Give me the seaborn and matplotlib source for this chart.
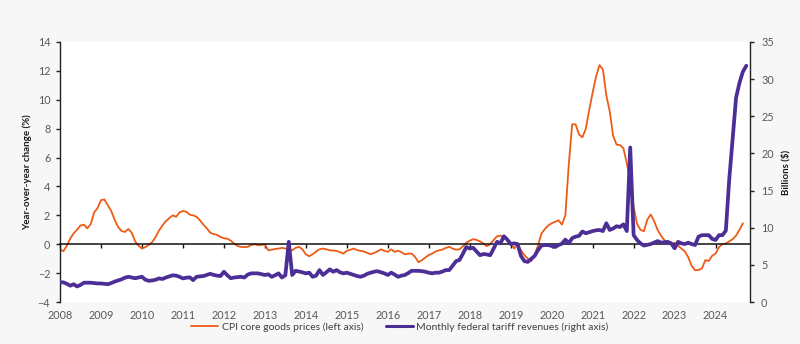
import numpy as np
import pandas as pd
import matplotlib
matplotlib.use("Agg")
import matplotlib.pyplot as plt
import seaborn as sns
from matplotlib.lines import Line2D

# ---------------- data (monthly, starting Jan 2008) ----------------
start_year = 2008
cpi_core_goods = [
    -0.35, -0.48, -0.1, 0.39, 0.75, 1.0, 1.3, 1.35, 1.1, 1.4, 2.2, 2.5,
    3.05, 3.1, 2.7, 2.3, 1.7, 1.2, 0.92, 0.85, 1.06, 0.8, 0.2, -0.1,
    -0.3, -0.2, -0.05, 0.15, 0.5, 0.95, 1.3, 1.6, 1.8, 2.0, 1.9, 2.2,
    2.3, 2.25, 2.05, 2.0, 1.9, 1.65, 1.35, 1.1, 0.8, 0.7, 0.65, 0.5,
    0.42, 0.38, 0.25, 0.05, -0.12, -0.18, -0.2, -0.18, -0.05, 0.0, -0.07, -0.05,
    -0.02, -0.42, -0.38, -0.33, -0.3, -0.25, -0.3, -0.33, -0.42, -0.25, -0.18, -0.35,
    -0.7, -0.83, -0.69, -0.5, -0.35, -0.3, -0.35, -0.42, -0.44, -0.46, -0.55, -0.65,
    -0.46, -0.38, -0.3, -0.4, -0.46, -0.5, -0.6, -0.69, -0.6, -0.49, -0.35, -0.45,
    -0.53, -0.35, -0.53, -0.45, -0.55, -0.7, -0.65, -0.65, -0.88, -1.25, -1.1, -0.92,
    -0.75, -0.65, -0.5, -0.42, -0.37, -0.25, -0.18, -0.3, -0.38, -0.35, -0.14, 0.1,
    0.25, 0.35, 0.3, 0.2, 0.05, -0.14, 0.0, 0.3, 0.55, 0.6, 0.45, 0.3,
    0.1, -0.3, 0.05, -0.42, -0.75, -1.0, -1.16, -0.76, -0.07, 0.74, 1.05, 1.3,
    1.45, 1.55, 1.66, 1.36, 2.0, 5.5, 8.3, 8.3, 7.6, 7.4, 8.0, 9.3,
    10.5, 11.6, 12.4, 12.1, 10.3, 9.2, 7.5, 6.9, 6.86, 6.65, 5.6, 4.4,
    2.6, 1.4, 1.0, 0.9, 1.7, 2.06, 1.6, 1.0, 0.6, 0.28, 0.1, 0.05,
    0.09, -0.1, -0.3, -0.5, -0.9, -1.5, -1.8, -1.78, -1.68, -1.1, -1.16, -0.8,
    -0.65, -0.2, 0.0, 0.05, 0.2, 0.35, 0.6, 1.0, 1.45,
]
tariff_revenues = [
    2.65, 2.65, 2.45, 2.2, 2.4, 2.1, 2.3, 2.6, 2.6, 2.6, 2.55, 2.5,
    2.5, 2.45, 2.4, 2.55, 2.75, 2.9, 3.05, 3.27, 3.4, 3.3, 3.2, 3.3,
    3.4, 3.0, 2.86, 2.9, 3.0, 3.18, 3.1, 3.3, 3.45, 3.6, 3.55, 3.4,
    3.18, 3.27, 3.32, 2.95, 3.4, 3.45, 3.5, 3.65, 3.8, 3.65, 3.55, 3.5,
    4.07, 3.6, 3.2, 3.3, 3.35, 3.4, 3.3, 3.7, 3.86, 3.86, 3.86, 3.75,
    3.64, 3.73, 3.4, 3.6, 3.86, 3.3, 3.6, 8.1, 3.64, 4.2, 4.1, 4.0,
    3.86, 3.95, 3.4, 3.55, 4.3, 3.64, 4.0, 4.4, 4.08, 4.3, 4.0, 3.86,
    3.95, 3.8, 3.64, 3.5, 3.4, 3.55, 3.8, 3.95, 4.08, 4.15, 4.0, 3.86,
    3.64, 3.95, 3.7, 3.4, 3.55, 3.64, 3.9, 4.2, 4.2, 4.2, 4.15, 4.08,
    3.95, 3.86, 3.95, 3.95, 4.1, 4.3, 4.3, 4.9, 5.5, 5.66, 6.5, 7.4,
    7.2, 7.3, 6.8, 6.3, 6.46, 6.4, 6.3, 7.2, 8.1, 7.9, 8.85, 8.4,
    7.8, 7.9, 7.8, 6.2, 5.5, 5.4, 5.8, 6.2, 7.0, 7.6, 7.67, 7.67,
    7.55, 7.4, 7.67, 7.85, 8.4, 7.9, 8.6, 8.8, 8.9, 9.5, 9.25, 9.4,
    9.55, 9.65, 9.7, 9.55, 10.6, 9.7, 9.9, 10.2, 10.1, 10.45, 9.55, 20.8,
    9.0, 8.35, 7.9, 7.6, 7.7, 7.8, 8.0, 8.2, 8.0, 8.05, 8.1, 7.9,
    7.23, 8.1, 7.9, 7.8, 7.99, 7.8, 7.67, 8.8, 9.0, 9.0, 9.0, 8.5,
    8.35, 9.0, 9.0, 9.6, 16.5, 22.0, 27.5, 29.5, 31.0, 31.8,
]
year_ticks = list(range(2008, 2025))
left_ticks = list(range(-4, 15, 2))
right_ticks = list(range(0, 36, 5))
cpi_label = "CPI core goods prices (left axis)"
tariff_label = "Monthly federal tariff revenues (right axis)"
left_title = "Year-over-year change (%)"
right_title = "Billions ($)"

# ---------------- style ----------------
ORANGE = "#EE5B14"
PURPLE = "#4B2E96"
GRAY = "#595959"

sns.set_theme(style="white")
plt.rcParams["font.family"] = ["Lato", "DejaVu Sans"]

cpi_df = pd.DataFrame({"year": start_year + np.arange(len(cpi_core_goods)) / 12.0,
                       "value": cpi_core_goods})
tar_df = pd.DataFrame({"year": start_year + np.arange(len(tariff_revenues)) / 12.0,
                       "value": tariff_revenues})

fig = plt.figure(figsize=(8, 3.44), dpi=100, facecolor="#f7f7f7")
ax = fig.add_axes([0.075, 0.122, 0.8625, 0.756])
ax.set_facecolor("white")
ax2 = ax.twinx()

sns.lineplot(data=cpi_df, x="year", y="value", ax=ax, color=ORANGE, linewidth=1.3)
sns.lineplot(data=tar_df, x="year", y="value", ax=ax2, color=PURPLE, linewidth=2.7)

ax.set_xlim(2008, 2024.84)
ax.set_ylim(-4, 14)
ax2.set_ylim(0, 35)

# left axis
ax.spines["top"].set_visible(False)
ax.spines["right"].set_visible(False)
ax.spines["left"].set_color("#222222")
ax.spines["left"].set_linewidth(1.0)
ax.spines["bottom"].set_position(("data", 0))
ax.spines["bottom"].set_color("#111111")
ax.spines["bottom"].set_linewidth(1.1)
ax.set_yticks(left_ticks)
ax.tick_params(axis="y", left=True, direction="out", length=3, width=1,
               color="#222222", pad=4, labelsize=7.8, labelcolor=GRAY)
ax.set_xticks(year_ticks)
ax.tick_params(axis="x", bottom=True, direction="out", length=3, width=1,
               color="#111111", labelbottom=False)
ax.set_xlabel("")
ax.set_ylabel(left_title, fontsize=7, fontweight="bold", color="#1a1a1a", labelpad=4)

# x labels at bottom
sec = ax.secondary_xaxis("bottom")
sec.set_xticks(year_ticks)
sec.set_xticklabels([str(y) for y in year_ticks])
sec.tick_params(length=0, pad=6, labelsize=7.8, labelcolor=GRAY)
sec.spines["bottom"].set_visible(False)

# right axis
for s in ["top", "left", "bottom"]:
    ax2.spines[s].set_visible(False)
ax2.spines["right"].set_color("#222222")
ax2.spines["right"].set_linewidth(1.0)
ax2.set_yticks(right_ticks)
ax2.tick_params(axis="y", right=True, direction="out", length=3, width=1,
                color="#222222", pad=5, labelsize=7.8, labelcolor=GRAY)
ax2.set_ylabel(right_title, fontsize=7, fontweight="bold", color="#1a1a1a", labelpad=5)

# legend
handles = [Line2D([], [], color=ORANGE, linewidth=1.3),
           Line2D([], [], color=PURPLE, linewidth=2.2)]
leg = fig.legend(handles, [cpi_label, tariff_label], loc="center",
                 bbox_to_anchor=(0.5, 0.05), ncol=2, frameon=False,
                 fontsize=7.5, handlelength=2.6, columnspacing=2.2,
                 handletextpad=0.3)
for t in leg.get_texts():
    t.set_color("#404040")

fig.savefig("out.png", dpi=100, facecolor=fig.get_facecolor())
